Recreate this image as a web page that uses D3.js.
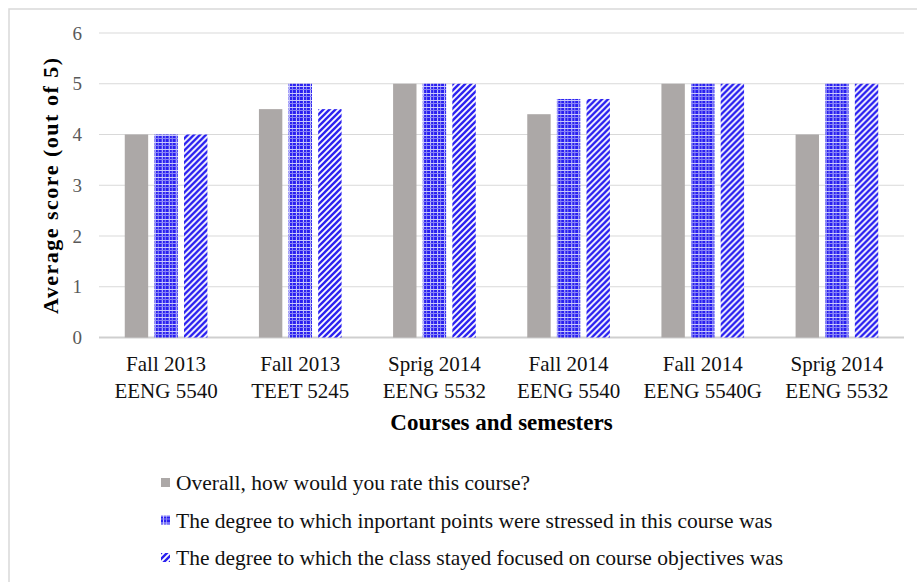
<!doctype html>
<html>
<head>
  <script src="https://d3js.org/d3.v7.min.js" charset="utf-8"></script>
  <style>
    body { margin: 0; background: #fff; }
    text { font-family: "Liberation Serif", "Times New Roman", serif; }
  </style>
</head>
<body>
  <div id="viz"></div>
  <script>
    // data
    var courses = [
      ["Fall 2013", "EENG 5540"],
      ["Fall 2013", "TEET 5245"],
      ["Sprig 2014", "EENG 5532"],
      ["Fall 2014", "EENG 5540"],
      ["Fall 2014", "EENG 5540G"],
      ["Sprig 2014", "EENG 5532"]
    ];
    var seriesNames = [
      "Overall, how would you rate this course?",
      "The degree to which inportant points were stressed in this course was",
      "The degree to which the class stayed focused on course objectives was"
    ];
    var overall  = [4, 4.5, 5, 4.4, 5, 4];
    var stressed = [4, 5, 5, 4.7, 5, 5];
    var focused  = [4, 4.5, 5, 4.7, 5, 5];
    var yTicks = [0, 1, 2, 3, 4, 5, 6];

    var W = 917, H = 582;
    var plotLeft = 99, plotRight = 904, plotTop = 33, plotBottom = 337.5;

    var svg = d3.select("#viz").append("svg")
        .attr("width", W).attr("height", H);

    // patterns for the two blue series
    var defs = svg.append("defs");
    var check = defs.append("pattern")
        .attr("id", "check").attr("patternUnits", "userSpaceOnUse")
        .attr("width", 7).attr("height", 7);
    check.append("rect").attr("width", 7).attr("height", 7).attr("fill", "#2a20f0");
    check.append("rect").attr("x", 2).attr("width", 1).attr("height", 7).attr("fill", "#c8c8fb");
    check.append("rect").attr("x", 5).attr("width", 1).attr("height", 7).attr("fill", "#8a86f6");
    check.append("rect").attr("y", 2).attr("width", 7).attr("height", 1).attr("fill", "#c8c8fb");
    check.append("rect").attr("y", 5).attr("width", 7).attr("height", 1).attr("fill", "#8a86f6");

    var hatch = defs.append("pattern")
        .attr("id", "hatch").attr("patternUnits", "userSpaceOnUse")
        .attr("width", 6).attr("height", 6);
    hatch.append("rect").attr("width", 6).attr("height", 6).attr("fill", "#fff");
    hatch.append("path")
        .attr("d", "M-1,7 L7,-1 M-4,4 L4,-4 M2,10 L10,2")
        .attr("stroke", "#2a20f0").attr("stroke-width", 2.4);

    var fills = ["#aca8a7", "url(#check)", "url(#hatch)"];

    // outer frame
    svg.append("rect")
        .attr("x", 9).attr("y", 9).attr("width", 960).attr("height", 700)
        .attr("fill", "none").attr("stroke", "#d9d9d9").attr("stroke-width", 1.5);

    var x0 = d3.scaleBand().domain(d3.range(courses.length))
        .range([plotLeft, plotRight]).paddingInner(0.384).paddingOuter(0.192);
    var x1 = d3.scaleBand().domain(d3.range(3))
        .range([0, x0.bandwidth()]).paddingInner(0.21);
    var y = d3.scaleLinear().domain([0, 6]).range([plotBottom, plotTop]);

    // gridlines
    svg.append("g").selectAll("line").data(yTicks).enter().append("line")
        .attr("x1", plotLeft).attr("x2", plotRight)
        .attr("y1", function(d) { return y(d); })
        .attr("y2", function(d) { return y(d); })
        .attr("stroke", function(d) { return d === 0 ? "#cfcfcf" : "#d9d9d9"; })
        .attr("stroke-width", function(d) { return d === 0 ? 1.8 : 1; });

    // y axis labels
    var yAxis = svg.append("g")
        .attr("transform", "translate(" + plotLeft + ",0)")
        .call(d3.axisLeft(y).tickValues(yTicks).tickFormat(d3.format("d"))
              .tickSize(0).tickPadding(17));
    yAxis.select(".domain").remove();
    yAxis.selectAll("text")
        .style("font-family", "Liberation Serif")
        .style("font-size", "19px").attr("fill", "#595959");

    // bars
    var rows = courses.map(function(c, i) {
      return [overall[i], stressed[i], focused[i]];
    });
    var groups = svg.append("g").selectAll("g").data(rows).enter().append("g")
        .attr("transform", function(d, i) { return "translate(" + x0(i) + ",0)"; });
    groups.selectAll("rect").data(function(d) { return d; }).enter().append("rect")
        .attr("x", function(d, j) { return x1(j); })
        .attr("width", x1.bandwidth())
        .attr("y", function(d) { return y(d); })
        .attr("height", function(d) { return y(0) - y(d); })
        .attr("fill", function(d, j) { return fills[j]; });

    // x category labels
    var xl = svg.append("g").selectAll("text").data(courses).enter().append("text")
        .attr("text-anchor", "middle")
        .style("font-size", "21px").attr("fill", "#111");
    xl.append("tspan")
        .attr("x", function(d, i) { return x0(i) + x0.bandwidth() / 2; })
        .attr("y", 371)
        .text(function(d) { return d[0]; });
    xl.append("tspan")
        .attr("x", function(d, i) { return x0(i) + x0.bandwidth() / 2; })
        .attr("y", 398)
        .text(function(d) { return d[1]; });

    // axis titles
    svg.append("text")
        .attr("x", (plotLeft + plotRight) / 2).attr("y", 430)
        .attr("text-anchor", "middle")
        .style("font-size", "23px").style("font-weight", "bold")
        .text("Courses and semesters");

    svg.append("text")
        .attr("transform", "translate(58," + ((plotTop + plotBottom) / 2) + ") rotate(-90)")
        .attr("text-anchor", "middle")
        .style("font-size", "22px").style("font-weight", "bold")
        .style("letter-spacing", "1.5px")
        .text("Average score (out of 5)");

    // legend
    var legend = svg.append("g").selectAll("g").data(seriesNames).enter().append("g")
        .attr("transform", function(d, i) { return "translate(161," + (490 + i * 37.5) + ")"; });
    legend.append("rect")
        .attr("x", 0).attr("y", -12).attr("width", 9).attr("height", 9)
        .attr("fill", function(d, i) { return fills[i]; });
    legend.append("text")
        .attr("x", 15).attr("y", 0)
        .style("font-size", "21.5px").attr("fill", "#111")
        .text(function(d) { return d; });
  </script>
</body>
</html>
